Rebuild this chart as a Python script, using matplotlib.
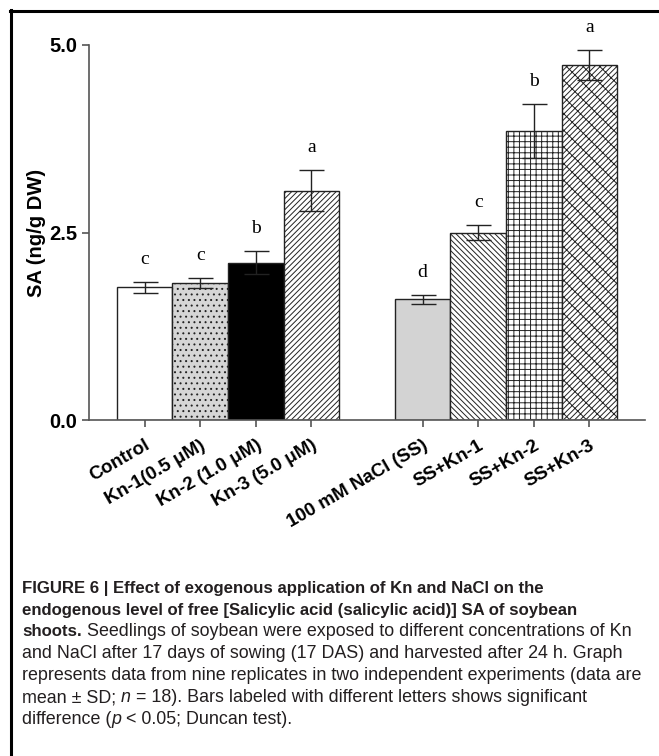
import matplotlib
matplotlib.use("Agg")
import matplotlib.pyplot as plt
import matplotlib.lines as mlines

# dati
categories = ["Control", "Kn-1(0.5 μM)", "Kn-2 (1.0 μM)", "Kn-3 (5.0 μM)",
              "100 mM NaCl (SS)", "SS+Kn-1", "SS+Kn-2", "SS+Kn-3"]
positions = [0, 1, 2, 3, 5, 6, 7, 8]
sa_mean = [1.77, 1.83, 2.10, 3.06, 1.61, 2.50, 3.86, 4.73]
sa_sd = [0.07, 0.07, 0.15, 0.27, 0.06, 0.10, 0.36, 0.20]
letters = ["c", "c", "b", "a", "d", "c", "b", "a"]

# stile delle barre
colors = ["white", "#d6d6d6", "black", "white", "#d3d3d3", "white", "white", "white"]
hatches = [None, "...", None, "//////", None, "\\\\\\\\\\\\", "+++", "//////\\\\"]

plt.rcParams["hatch.linewidth"] = 0.7
plt.rcParams["font.family"] = ["Liberation Sans", "DejaVu Sans"]

fig = plt.figure(figsize=(6.59, 7.56), dpi=100)
ax = fig.add_axes([89 / 659, 1 - 420 / 756, (645 - 89) / 659, (420 - 45) / 756])

for x, m, s, c, h in zip(positions, sa_mean, sa_sd, colors, hatches):
    ax.bar(x, m, width=1.0, color=c, edgecolor="#222222", linewidth=1.0, hatch=h)
    ax.errorbar(x, m, yerr=s, fmt="none", ecolor="#222222", elinewidth=1.0,
                capsize=9, capthick=1.0)

for x, m, s, t in zip(positions, sa_mean, sa_sd, letters):
    ax.text(x, m + s + 0.3, t, ha="center", va="center", fontsize=14,
            family="Liberation Serif", clip_on=False)

ax.set_xlim(-1, 9)
ax.set_ylim(0, 5.0)
ax.set_yticks([0, 2.5, 5.0])
ax.set_yticklabels(["0.0", "2.5", "5.0"], fontsize=14.5, fontweight="bold")
ax.set_xticks(positions)
ax.set_xticklabels(categories, rotation=30, ha="right", rotation_mode="anchor",
                   fontsize=13.5, fontweight="bold")
ax.set_ylabel("SA (ng/g DW)", fontsize=14.5, fontweight="bold", labelpad=2)

for side in ["top", "right"]:
    ax.spines[side].set_visible(False)
for side in ["left", "bottom"]:
    ax.spines[side].set_color("#555555")
    ax.spines[side].set_linewidth(1.2)
ax.tick_params(axis="both", direction="out", color="#555555", width=1.2, length=5)
ax.tick_params(axis="x", pad=7)

# cornice della figura (solo sinistra e sopra)
fig.add_artist(mlines.Line2D([11 / 659, 11 / 659], [0, 1 - 10 / 756], color="black",
                             linewidth=2.2, transform=fig.transFigure))
fig.add_artist(mlines.Line2D([10 / 659, 1], [1 - 11 / 756, 1 - 11 / 756], color="black",
                             linewidth=2.2, transform=fig.transFigure))

# didascalia: ogni riga è una lista di pezzi (testo, peso, stile)
caption = [
    [("FIGURE 6 | Effect of exogenous application of Kn and NaCl on the", "bold", "normal")],
    [("endogenous level of free [Salicylic acid (salicylic acid)] SA of soybean", "bold", "normal")],
    [("shoots.", "bold", "normal"),
     (" Seedlings of soybean were exposed to different concentrations of Kn", "normal", "normal")],
    [("and NaCl after 17 days of sowing (17 DAS) and harvested after 24 h. Graph", "normal", "normal")],
    [("represents data from nine replicates in two independent experiments (data are", "normal", "normal")],
    [("mean ± SD; ", "normal", "normal"), ("n", "normal", "italic"),
     (" = 18). Bars labeled with different letters shows significant", "normal", "normal")],
    [("difference (", "normal", "normal"), ("p", "normal", "italic"),
     (" < 0.05; Duncan test).", "normal", "normal")],
]

renderer = fig.canvas.get_renderer()
x0 = 22
y_first = 588
line_step = 22
for i, parts in enumerate(caption):
    xpx = x0
    ypx = 756 - (y_first + i * line_step)
    for txt, w, st in parts:
        size = 12.1 if w == "bold" else 12.9
        t = fig.text(xpx / 659, ypx / 756, txt, fontsize=size, fontweight=w, fontstyle=st,
                     ha="left", va="center", color="#231f20")
        bb = t.get_window_extent(renderer=renderer)
        xpx = bb.x1

fig.savefig("out.png", dpi=100)
